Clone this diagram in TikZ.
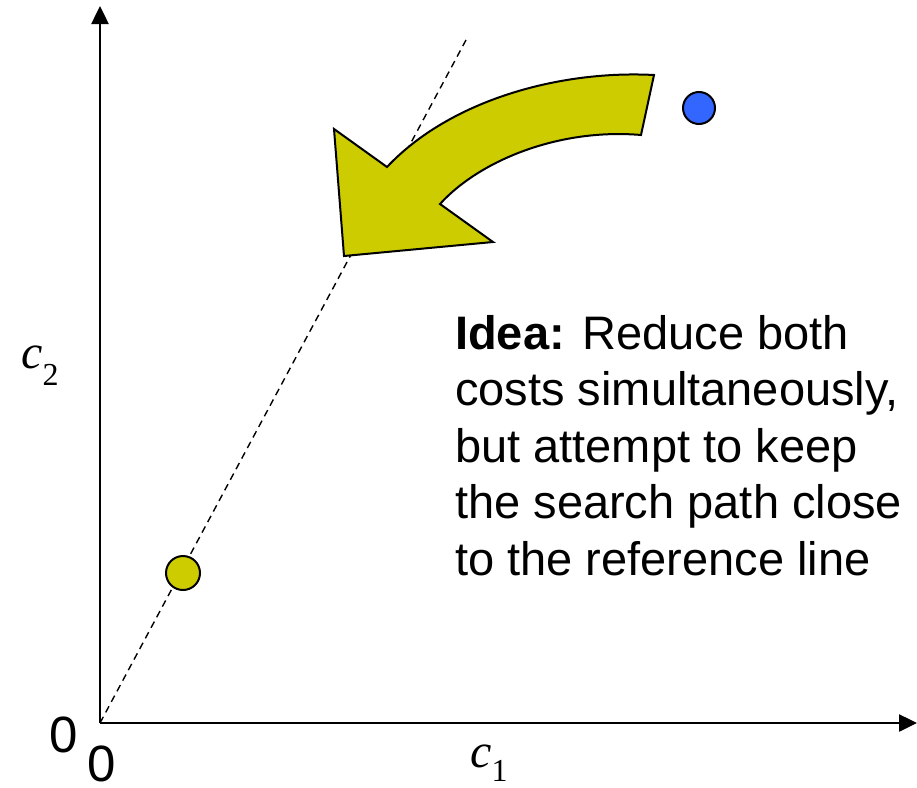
\documentclass[tikz,border=0pt]{standalone}
\usepackage{fontspec}
\setmainfont{Liberation Sans}
\newfontfamily\tms{Liberation Serif}
\usetikzlibrary{arrows.meta}
\definecolor{olive}{HTML}{CCCC00}
\definecolor{dotblue}{HTML}{3366FF}
\begin{document}
\begin{tikzpicture}[x=1pt,y=-1pt,
  axis/.style={line width=2.5pt,-{Triangle[length=18pt,width=17pt]}},
  refline/.style={line width=1.4pt,dash pattern=on 7pt off 5pt},
  bigarrow/.style={fill=olive,draw=black,line width=2pt,line join=miter},
  dot/.style={circle,draw=black,line width=2pt,inner sep=0pt,minimum size=#1},
  lbl/.style={inner sep=0pt,font=\fontsize{51}{51}\selectfont},
  idea/.style={inner sep=0pt,align=left,font=\fontsize{47}{56.5}\selectfont}]
\useasboundingbox (0,0) rectangle (917,787);
\coordinate (o) at (100,723);
\coordinate (ytop) at (100,6);
\coordinate (xend) at (917,723);
\coordinate (lend) at (466,40);
\draw[refline] (o) -- (lend);
\draw[axis] (o) -- (ytop);
\draw[axis] (o) -- (xend);
\draw[bigarrow] (387,167) .. controls (450,100) and (560,70) .. (654,75)
  -- (641,135) .. controls (560,128) and (480,160) .. (440,204)
  -- (493,242) -- (344,256) -- (334,129) -- cycle;
\node[dot=32pt,fill=dotblue] (blue) at (699,108) {};
\node[dot=34pt,fill=olive] (yellow) at (183,573) {};
\node[idea,anchor=base west] (text) at (455,575)
  {\textbf{Idea:} Reduce both\\costs simultaneously,\\but attempt to keep\\the search path close\\to the reference line};
\node[lbl] (zeroy) at (64,735) {0};
\node[lbl] (zerox) at (102,764) {0};
\node[inner sep=0pt,anchor=base west] (c1) at (470,767)
  {\fontsize{48}{48}\tms\itshape c\upshape\raisebox{-14pt}{\fontsize{32}{32}\selectfont 1}};
\node[inner sep=0pt,anchor=base west] (c2) at (21,368)
  {\fontsize{48}{48}\tms\itshape c\upshape\raisebox{-17pt}{\fontsize{32}{32}\selectfont 2}};
\end{tikzpicture}
\end{document}
